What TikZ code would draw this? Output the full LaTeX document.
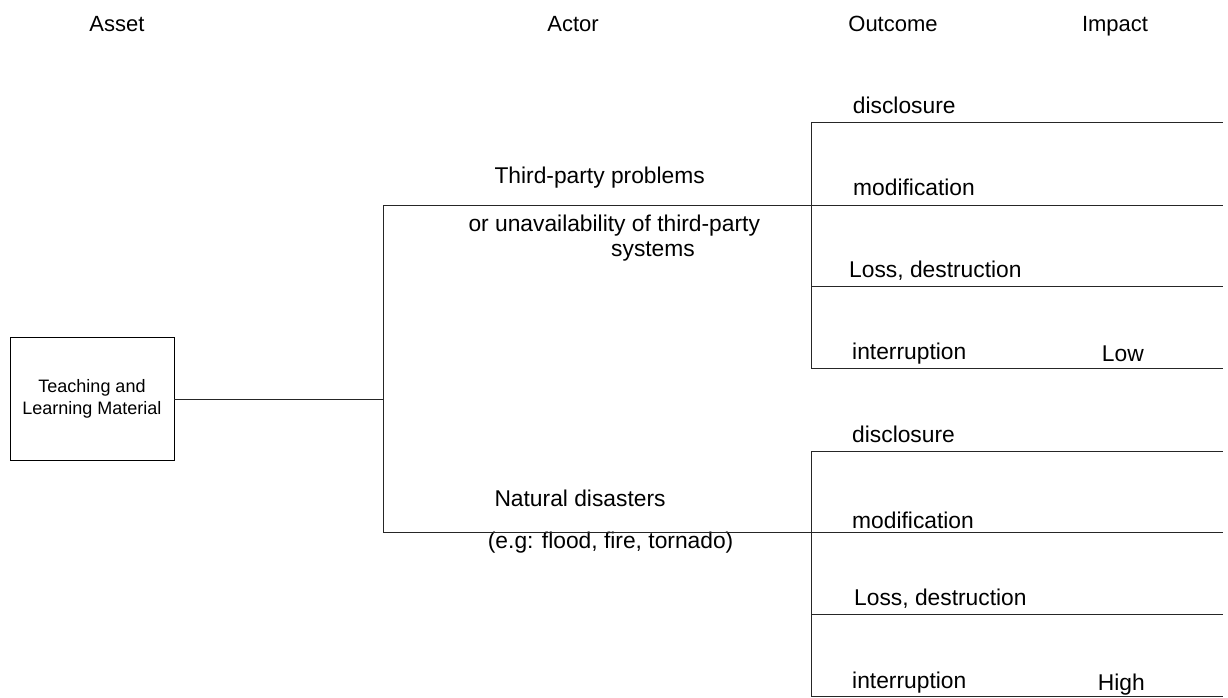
\documentclass[tikz,border=0pt]{standalone}
\usepackage{fontspec}
\setmainfont{Liberation Sans}
\begin{document}
\begin{tikzpicture}[x=1pt,y=-1pt,
  lbl/.style={anchor=base west,inner sep=0pt,font=\fontsize{22.8}{27}\selectfont},
  hdr/.style={anchor=base,inner sep=0pt,font=\fontsize{22}{26}\selectfont},
  ln/.style={line width=0.9pt,draw=black!85}]
\useasboundingbox (0,0) rectangle (1228,698);
% headers
\node[hdr] (hasset) at (117,31.7) {Asset};
\node[hdr] (hactor) at (573,31.7) {Actor};
\node[hdr] (houtcome) at (893,31.7) {Outcome};
\node[hdr] (himpact) at (1115,31.7) {Impact};
% asset box
\node[draw=black,line width=0.9pt,minimum width=164pt,minimum height=123pt,inner sep=0pt,
  align=center,font=\fontsize{18}{22}\selectfont] (asset) at (92,399) {Teaching and\\Learning Material};
% actor labels
\node[lbl] (a1) at (494.3,183.3) {Third-party problems};
\node[lbl] (a1b) at (468.3,231.7) {or unavailability of third-party};
\node[lbl] (a1c) at (611,256.7) {systems};
\node[lbl] (a2) at (494.3,506.7) {Natural disasters};
\node[lbl] (a2b) at (487.7,548) {(e.g: flood, fire, tornado)};
% outcome labels top
\node[lbl] (o1) at (852.7,113.3) {disclosure};
\node[lbl] (o2) at (853,195.7) {modification};
\node[lbl] (o3) at (849,277.7) {Loss, destruction};
\node[lbl] (o4) at (852,359.3) {interruption};
\node[lbl] (low) at (1101.7,361.7) {Low};
% outcome labels bottom
\node[lbl] (p1) at (852,442.7) {disclosure};
\node[lbl] (p2) at (852,528.3) {modification};
\node[lbl] (p3) at (854,605) {Loss, destruction};
\node[lbl] (p4) at (852,688.3) {interruption};
\node[lbl] (high) at (1097.7,690.7) {High};
% coordinates
\coordinate (j) at (383,399);
\coordinate (jt) at (383,205);
\coordinate (jb) at (383,532);
\coordinate (t0) at (811,122);
\coordinate (t1) at (811,205);
\coordinate (t2) at (811,286);
\coordinate (t3) at (811,368);
\coordinate (b0) at (811,451);
\coordinate (b1) at (811,532);
\coordinate (b2) at (811,614);
\coordinate (b3) at (811,696);
\def\xr{1223}
% connectors
\draw[ln] (asset.east) -- (j);
\draw[ln] (jt) -- (jb);
\draw[ln] (jt) -- (t1);
\draw[ln] (jb) -- (b1);
\draw[ln] (t0) -- (t3);
\draw[ln] (b0) -- (b3);
\foreach \c in {t0,t1,t2,t3,b0,b1,b2,b3}{
  \draw[ln] (\c) -- (\c -| \xr,0);
}
\end{tikzpicture}
\end{document}
